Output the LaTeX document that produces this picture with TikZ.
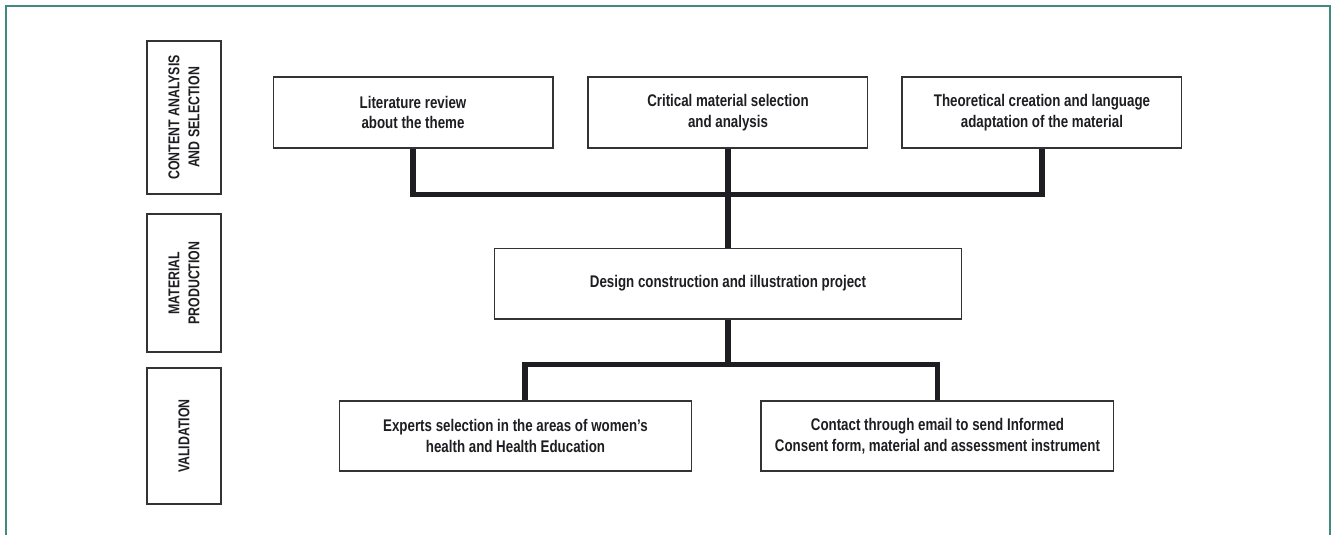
\documentclass[tikz,border=0pt]{standalone}
\usepackage{fontspec}
\setmainfont{Liberation Sans}[FakeStretch=0.79]
\usepackage{tikz}
\usetikzlibrary{positioning,calc}
\definecolor{ink}{HTML}{1E1E22}
\definecolor{boxline}{HTML}{333333}
\definecolor{framegreen}{HTML}{3F8B7D}
\tikzset{
  stepbox/.style={rectangle,draw=boxline,line width=0.6pt,fill=white,text=ink,
    align=center,font=\fontsize{9.6pt}{11.6pt}\selectfont\bfseries,
    minimum height=1.42cm,inner sep=2pt},
  phasebox/.style={rectangle,draw=boxline,line width=0.6pt,fill=white,text=ink,
    align=center,font=\fontsize{8.9pt}{11.4pt}\selectfont\bfseries,
    rotate=90,minimum height=1.48cm,inner sep=2pt},
  busline/.style={line width=3pt,color=ink,line join=miter},
  frameline/.style={line width=1pt,color=framegreen},
}
\begin{document}
\begin{tikzpicture}[x=0.02cm,y=-0.02cm,node distance=0.68cm]
  \useasboundingbox (0,0) rectangle (1333,535);
  \draw[frameline] (6,535) |- (1330,6) -- (1330,535);

  % phases on the left
  \node[phasebox,minimum width=3.06cm] (phase1) at (184,117.5) {CONTENT ANALYSIS\\AND SELECTION};
  \node[phasebox,minimum width=2.76cm] (phase2) at (184,283) {MATERIAL\\PRODUCTION};
  \node[phasebox,minimum width=2.72cm] (phase3) at (184,436) {VALIDATION};

  % steps
  \node[stepbox,minimum width=5.6cm] (lit) at (413,112.5) {Literature review\\about the theme};
  \node[stepbox,minimum width=5.6cm,right=of lit] (crit) {Critical material selection\\and analysis};
  \node[stepbox,minimum width=5.6cm,right=0.66cm of crit] (theo) {Theoretical creation and language\\adaptation of the material};
  \node[stepbox,minimum width=9.34cm,below=1.98cm of crit] (design) {Design construction and illustration project};
  \node[stepbox,minimum width=7.06cm,minimum height=1.4cm] (experts) at (515.5,436) {Experts selection in the areas of women’s\\health and Health Education};
  \node[stepbox,minimum width=7.06cm,minimum height=1.4cm,right=1.36cm of experts] (contact) {Contact through email to send Informed\\Consent form, material and assessment instrument};

  \coordinate[below=0.92cm of crit] (bus1);
  \coordinate[below=0.9cm of design] (bus2);

  \draw[busline] (lit.south) |- (bus1) -| (theo.south);
  \draw[busline] (crit.south) -- (design.north);
  \draw[busline] (design.south) -- (bus2);
  \draw[busline] ([xshift=0.19cm]experts.north) |- (bus2) -| (contact.north);
\end{tikzpicture}
\end{document}
